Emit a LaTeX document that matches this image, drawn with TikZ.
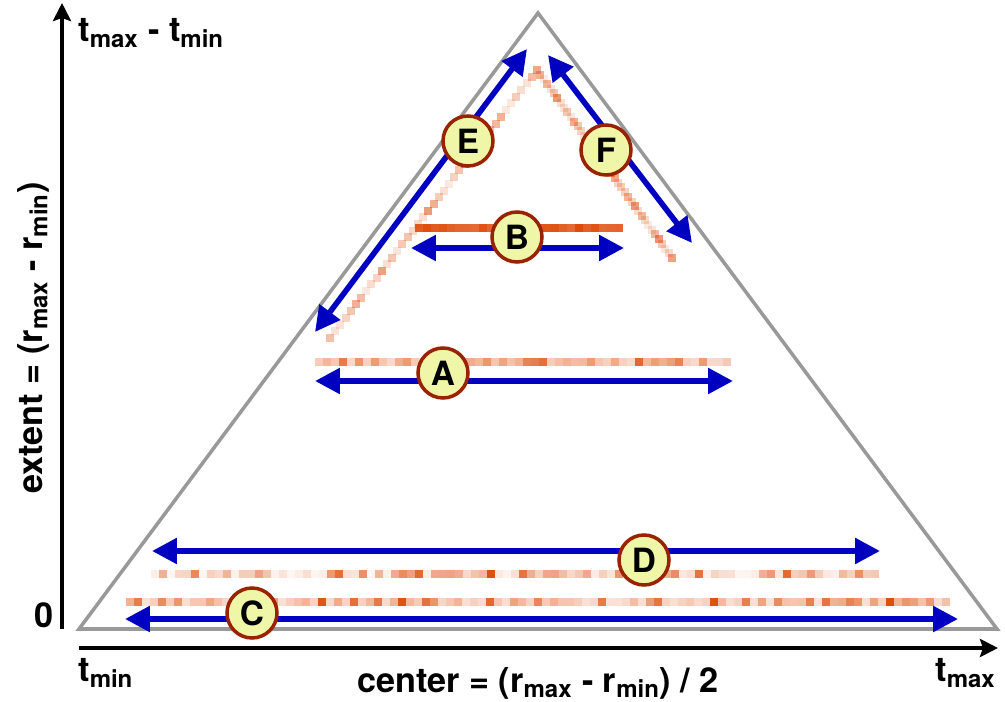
\documentclass[tikz,border=0pt]{standalone}
\usepackage{fontspec}
\setmainfont{TeX Gyre Heros}
\usepackage{xcolor}
\definecolor{RangeBlue} {HTML}{0000C0}
\definecolor{HeatOrange}{HTML}{DD4400}
\definecolor{TagFill}   {HTML}{F0F6A8}
\definecolor{TagRim}    {HTML}{992200}
\definecolor{FrameGray} {HTML}{999999}
\usetikzlibrary{arrows.meta}
% one row of heat cells, from x #1 to x #2 at height #3, opacity floor #4
\newcommand{\heatrow}[4]{%
  \pgfmathsetmacro{\heatn}{int((#2-#1)/8)}
  \foreach \i in {1,...,\heatn}{
    \pgfmathsetmacro{\heato}{#4+(1-#4)*rnd*rnd}
    \fill[HeatOrange,opacity=\heato]
      ({#1+8*(\i-1)},{#3-4}) rectangle ({#1+8*\i},{#3+4});
  }}
% a slanted run of heat squares from (#1,#2) to (#3,#4)
\newcommand{\heatdiag}[4]{%
  \foreach \i in {0,...,40}{
    \pgfmathsetmacro{\heato}{0.12+0.6*rnd*rnd}
    \fill[HeatOrange,opacity=\heato]
      ({#1+(#3-#1)*\i/40-4},{#2+(#4-#2)*\i/40-4}) rectangle +(8,8);
  }}

\begin{document}
\begin{tikzpicture}[x=0.02cm,y=-0.02cm,
  frame/.style={FrameGray,line width=2pt,line join=miter},
  axis/.style={line width=2.5pt,-{Stealth[length=0.36cm,width=0.36cm,inset=0.06cm]}},
  span/.style={RangeBlue,line width=3.2pt,
    {Triangle[length=0.5cm,width=0.5cm]}-{Triangle[length=0.5cm,width=0.5cm]}},
  tag/.style={circle,draw=TagRim,fill=TagFill,line width=2pt,
    minimum size=1.0cm,inner sep=0pt,font=\fontsize{19}{19}\selectfont\bfseries},
  lbl/.style={font=\fontsize{19.5}{22}\selectfont\bfseries,inner sep=0pt}]
  \useasboundingbox (0,0) rectangle (1005,702);
  \pgfmathsetseed{4711}
  % triangle of possible ranges
  \coordinate (lo) at (79,629);
  \coordinate (hi) at (997,629);
  \coordinate (apex) at (538,13);
  \draw[frame] (lo) -- (apex) -- (hi) -- cycle;
  % axes
  \coordinate (yfoot) at (62,629);
  \coordinate (ytop) at (62,3);
  \coordinate (xfoot) at (79,648);
  \coordinate (xend) at (998,648);
  \draw[axis] (yfoot) -- (ytop);
  \draw[axis] (xfoot) -- (xend);
  \node[lbl,anchor=base west] (ext) at (78,42)
    {t\textsubscript{max} - t\textsubscript{min}};
  \node[lbl,anchor=base] (zero) at (44,628) {0};
  \node[lbl,anchor=base west] (tmin) at (78,682) {t\textsubscript{min}};
  \node[lbl,anchor=base east] (tmax) at (996,682) {t\textsubscript{max}};
  \node[lbl,anchor=base] (xlab) at (538,692)
    {center = (r\textsubscript{max} - r\textsubscript{min}) / 2};
  \node[lbl,anchor=base,rotate=90] (ylab) at (42,338)
    {extent = (r\textsubscript{max} - r\textsubscript{min})};
  % heat strips
  \heatrow{315}{733}{362}{0.2}
  \heatrow{415}{623}{228}{0.8}
  \heatrow{151}{881}{574}{0.05}
  \heatrow{126}{957}{602}{0.15}
  \heatdiag{330}{338}{537}{70}
  \heatdiag{537}{70}{672}{258}
  % ranges
  \coordinate (a1) at (315,381); \coordinate (a2) at (733,381);
  \coordinate (b1) at (411,248); \coordinate (b2) at (624,248);
  \coordinate (c1) at (125,619); \coordinate (c2) at (958,619);
  \coordinate (d1) at (152,551); \coordinate (d2) at (880,551);
  \coordinate (e1) at (315,332); \coordinate (e2) at (527,49);
  \coordinate (f1) at (548,55);  \coordinate (f2) at (692,243);
  \draw[span] (a1) -- (a2);
  \draw[span] (b1) -- (b2);
  \draw[span] (c1) -- (c2);
  \draw[span] (d1) -- (d2);
  \draw[span] (e1) -- (e2);
  \draw[span] (f1) -- (f2);
  % labels
  \node[tag] (A) at (443,373) {A};
  \node[tag] (B) at (517,237) {B};
  \node[tag] (C) at (252,613) {C};
  \node[tag] (D) at (644,560) {D};
  \node[tag] (E) at (468,141) {E};
  \node[tag] (F) at (606,150) {F};
\end{tikzpicture}
\end{document}
